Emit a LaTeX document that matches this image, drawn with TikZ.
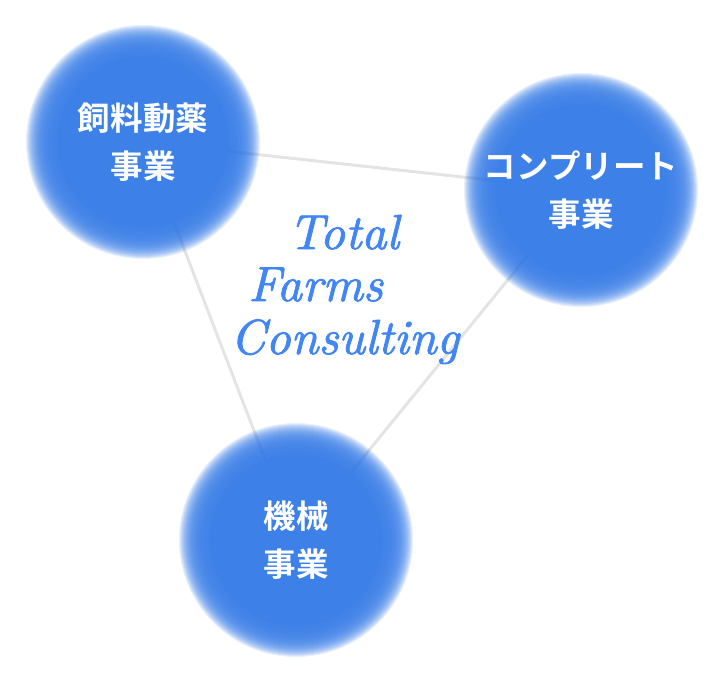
\documentclass[tikz,border=0pt]{standalone}
\usepackage{fontspec}
\newfontfamily\jpfont{Noto Sans CJK JP}[BoldFont={Noto Sans CJK JP Bold}]
\newfontfamily\brandfont{lmroman10-italic.otf}[FakeBold=1.6]
\definecolor{blobmid}{RGB}{61,128,231}
\definecolor{linkgray}{RGB}{228,228,228}
\definecolor{scriptblue}{RGB}{66,133,244}
\pgfdeclarelayer{links}
\pgfdeclarelayer{discs}
\pgfsetlayers{links,discs,main}

\begin{document}
\begin{tikzpicture}[
  x=0.02cm, y=-0.02cm,
  blob/.style = {circle, minimum size=200*0.02cm, inner sep=0pt,
    text=white, align=center, font=\jpfont\bfseries\fontsize{18.5}{27}\selectfont},
  link/.style = {linkgray, line width=1.7pt},
  brand/.style = {anchor=base west, inner sep=0pt, text=scriptblue,
    font=\brandfont\fontsize{28}{30}\selectfont}]
  \useasboundingbox (0,0) rectangle (722,682);

  % kruhy
  \node[blob] (feed) at (143,142) {飼料動薬\\事業};
  \node[blob] (comp) at (581,190) {コンプリート\\事業};
  \node[blob] (mach) at (296,540) {機械\\事業};

  % rozmazane disky
  \begin{pgfonlayer}{discs}
    \foreach \n in {feed,comp,mach} {
      \foreach \r in {117,116,...,84}
        \fill[blobmid, opacity=0.12] (\n.center) circle (\r*0.02cm);
      \fill[blobmid] (\n.center) circle (86*0.02cm);
    }
  \end{pgfonlayer}

  % spojnice
  \begin{pgfonlayer}{links}
    \draw[link] (feed.center) -- (comp.center);
    \draw[link] (feed.center) -- (mach.center);
    \draw[link] (comp.center) -- (mach.center);
  \end{pgfonlayer}

  % nazov
  \node[brand] (total) at (288,249) {Total};
  \node[brand] (farms) at (248,301) {Farms};
  \node[brand] (consulting) at (230,354) {Consulting};
\end{tikzpicture}
\end{document}
